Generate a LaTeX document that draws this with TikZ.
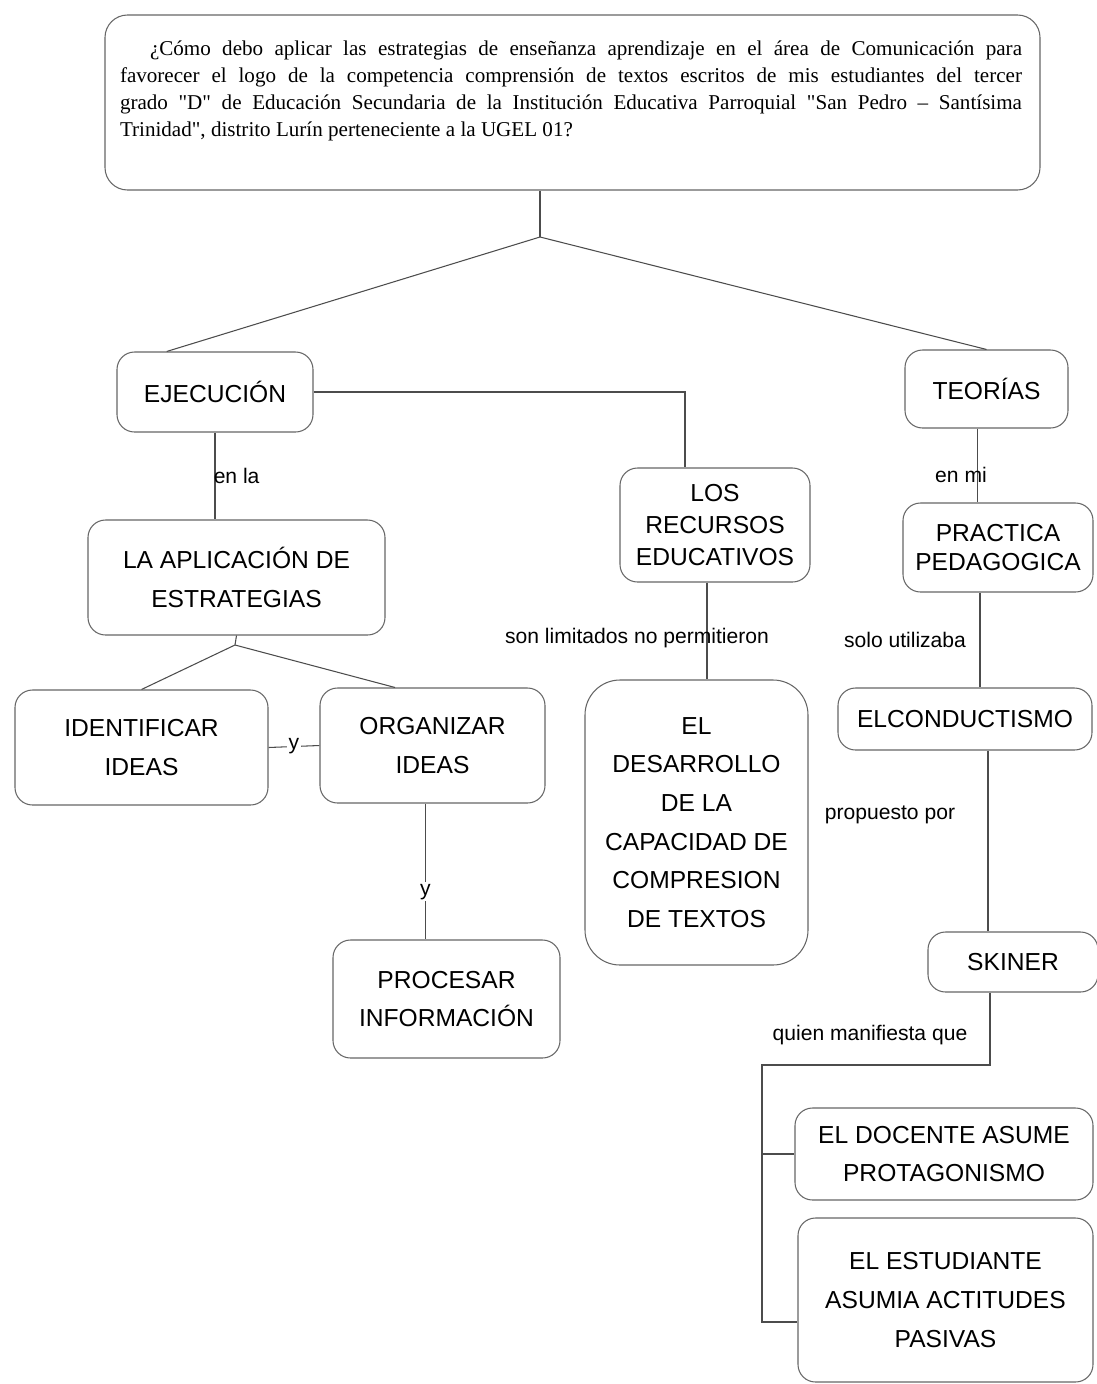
\documentclass[tikz,border=0pt]{standalone}
\usepackage{fontspec}
\setmainfont{Liberation Serif}
\setsansfont{Liberation Sans}
\begin{document}
\begin{tikzpicture}[
        concept/.style={draw=black!60, line width=0.6pt, rounded corners=0.35cm, align=center, inner sep=0pt, font=\sffamily\fontsize{14}{22}\selectfont},
        link/.style={draw=black!70, line width=0.6pt},
        tag/.style={font=\sffamily\fontsize{12}{14}\selectfont, inner sep=1pt}]
    \useasboundingbox (0,0) rectangle (21.94,-27.68);
    % pregunta
    \node[concept, minimum width=18.7cm, minimum height=3.5cm, rounded corners=0.45cm] (q) at (11.45,-2.05) {};
    \node[font=\fontsize{12}{15.4}\selectfont, text width=18.04cm, align=justify, inner sep=0pt] (qtext) at (11.42,-1.82)
        {\hspace*{0.6cm}¿Cómo debo aplicar las estrategias de enseñanza aprendizaje en el área de Comunicación para\linebreak
        favorecer el logo de la competencia comprensión de textos escritos de mis estudiantes del tercer\linebreak
        grado \textquotedbl D\textquotedbl{} de Educación Secundaria de la Institución Educativa Parroquial \textquotedbl San Pedro – Santísima\linebreak
        Trinidad\textquotedbl, distrito Lurín perteneciente a la UGEL 01?};
    \coordinate (j) at (10.8,-4.74);
    % rama izquierda
    \node[concept, minimum width=3.92cm, minimum height=1.6cm] (ejec) at (4.3,-7.84) {EJECUCIÓN};
    \node[concept, minimum width=5.94cm, minimum height=2.3cm] (apl) at (4.73,-11.55) {LA APLICACIÓN DE\\ESTRATEGIAS};
    \coordinate (j2) at (4.7,-12.9);
    \node[concept, minimum width=5.06cm, minimum height=2.3cm] (ident) at (2.83,-14.95) {IDENTIFICAR\\IDEAS};
    \node[concept, minimum width=4.5cm, minimum height=2.3cm] (org) at (8.65,-14.91) {ORGANIZAR\\IDEAS};
    \node[concept, minimum width=4.54cm, minimum height=2.36cm] (proc) at (8.93,-19.98) {PROCESAR\\INFORMACIÓN};
    % centro
    \node[concept, minimum width=3.8cm, minimum height=2.28cm, font=\sffamily\fontsize{14}{18}\selectfont] (rec) at (14.3,-10.5) {LOS\\RECURSOS\\EDUCATIVOS};
    \node[concept, minimum width=4.46cm, minimum height=5.7cm, rounded corners=0.7cm] (des) at (13.93,-16.45)
        {EL\\DESARROLLO\\DE LA\\CAPACIDAD DE\\COMPRESION\\DE TEXTOS};
    % rama derecha
    \node[concept, minimum width=3.26cm, minimum height=1.56cm] (teo) at (19.73,-7.78) {TEORÍAS};
    \node[concept, minimum width=3.8cm, minimum height=1.78cm, font=\sffamily\fontsize{14}{16.5}\selectfont] (prac) at (19.96,-10.95) {PRACTICA\\PEDAGOGICA};
    \node[concept, minimum width=5.08cm, minimum height=1.24cm] (cond) at (19.3,-14.38) {ELCONDUCTISMO};
    \node[concept, minimum width=3.4cm, minimum height=1.2cm] (skin) at (20.26,-19.24) {SKINER};
    \node[concept, minimum width=5.96cm, minimum height=1.84cm] (doc) at (18.88,-23.08) {EL DOCENTE ASUME\\PROTAGONISMO};
    \node[concept, minimum width=5.9cm, minimum height=3.28cm] (est) at (18.91,-26.0) {EL ESTUDIANTE\\ASUMIA ACTITUDES\\PASIVAS};
    % conectores
    \draw[link] (j |- q.south) -- (j);
    \draw[link] (j) -- (ejec.140);
    \draw[link] (j) -- (teo.north);
    \draw[link] (ejec.south) -- node[tag, right=-2pt] {en la} (ejec.south |- apl.north);
    \draw[link] (ejec.east) -| ([xshift=-0.6cm]rec.north);
    \coordinate (r1) at ([xshift=-0.16cm]rec.south);
    \draw[link] (r1) -- (r1 |- des.north);
    \node[tag] (limit) at (12.74,-12.76) {son limitados no permitieron};
    \draw[link] (apl.south) -- (j2);
    \draw[link] (j2) -- (ident.north);
    \draw[link] (j2) -- ([xshift=-0.75cm]org.north);
    \draw[link] (ident.east) -- node[tag, fill=white] {y} (org.west);
    \coordinate (o1) at ([xshift=-0.14cm]org.south);
    \draw[link] (o1) -- node[tag, fill=white, pos=0.65] {y} (o1 |- proc.north);
    \coordinate (t1) at ([xshift=-0.18cm]teo.south);
    \draw[link] (t1) -- (t1 |- prac.north);
    \node[tag] (enmi) at (19.22,-9.5) {en mi};
    \coordinate (p1) at ([xshift=-0.36cm]prac.south);
    \draw[link] (p1) -- (p1 |- cond.north);
    \node[tag] (solo) at (18.1,-12.8) {solo utilizaba};
    \coordinate (c1) at ([xshift=0.46cm]cond.south);
    \draw[link] (c1) -- (c1 |- skin.north);
    \node[tag] (prop) at (17.8,-16.3) {propuesto por};
    \coordinate (s1) at ([xshift=-0.46cm]skin.south);
    \coordinate (b1) at (15.24,-21.3);
    \node[tag] (quien) at (17.4,-20.7) {quien manifiesta que};
    \draw[link] (s1) |- (b1) |- ([yshift=-0.44cm]est.west);
    \draw[link] (b1 |- doc.west) -- (doc.west);
\end{tikzpicture}
\end{document}
